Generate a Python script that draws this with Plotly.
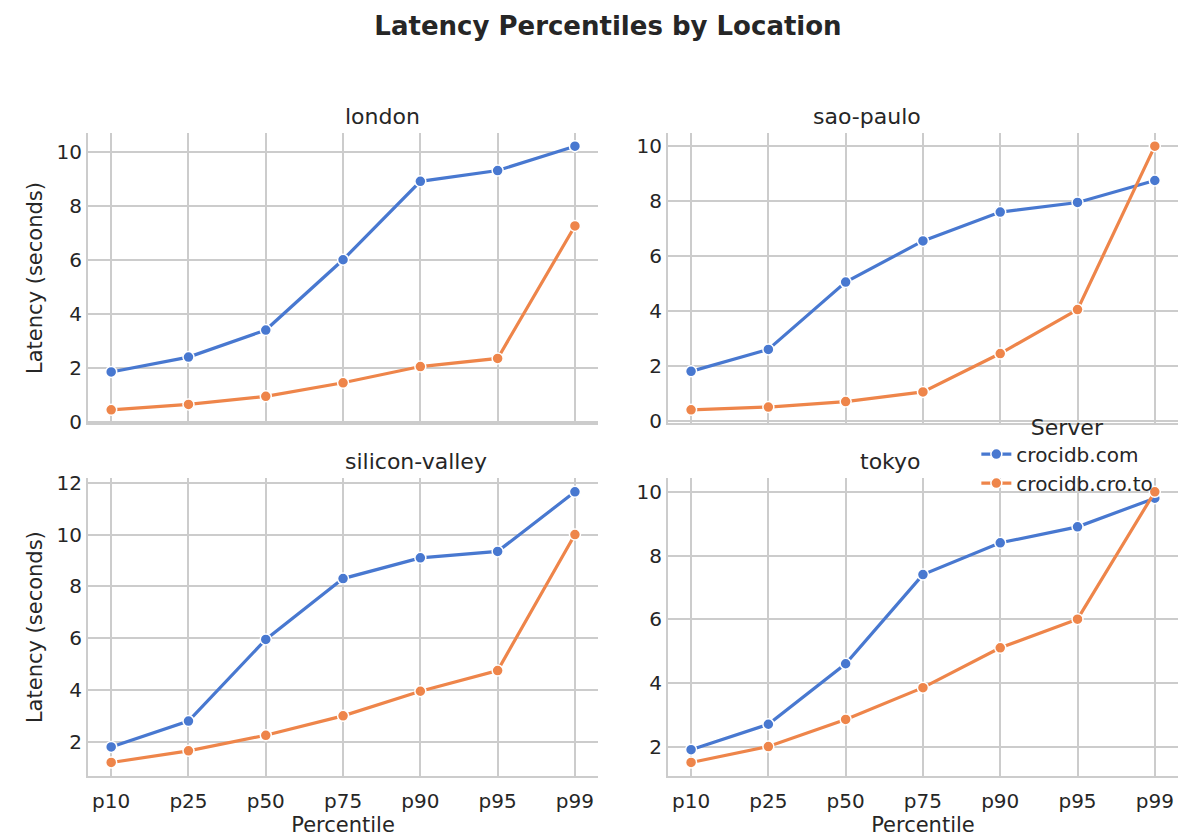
"""Latency percentiles facet chart."""

import plotly.graph_objects as go

pcts = ["p10", "p25", "p50", "p75", "p90", "p95", "p99"]
data = {
    "london": {
        "crocidb.com": [1.85, 2.4, 3.4, 6.0, 8.9, 9.3, 10.2],
        "crocidb.cro.to": [0.45, 0.65, 0.95, 1.45, 2.05, 2.35, 7.25],
    },
    "sao-paulo": {
        "crocidb.com": [1.8, 2.6, 5.05, 6.55, 7.6, 7.95, 8.75],
        "crocidb.cro.to": [0.4, 0.5, 0.7, 1.05, 2.45, 4.05, 10.0],
    },
    "silicon-valley": {
        "crocidb.com": [1.8, 2.8, 5.95, 8.3, 9.1, 9.35, 11.65],
        "crocidb.cro.to": [1.2, 1.65, 2.25, 3.0, 3.95, 4.75, 10.0],
    },
    "tokyo": {
        "crocidb.com": [1.9, 2.7, 4.6, 7.4, 8.4, 8.9, 9.8],
        "crocidb.cro.to": [1.5, 2.0, 2.85, 3.85, 5.1, 6.0, 10.0],
    },
}
colors = {"crocidb.com": "#4878d0", "crocidb.cro.to": "#ee854a"}

xdom = [[0, 0.468], [0.532, 1]]
ydom = [[0.549, 1], [0, 0.463]]
grid = "#cccccc"
text = "#262626"

fig = go.Figure()
layout = {}
for k, loc in enumerate(data):
    r, c = divmod(k, 2)
    n = k + 1
    xa = "x" if n == 1 else "x%d" % n
    ya = "y" if n == 1 else "y%d" % n
    for server, vals in data[loc].items():
        fig.add_trace(go.Scatter(
            x=list(range(7)), y=vals, xaxis=xa, yaxis=ya,
            mode="lines+markers", name=server, showlegend=(k == 0),
            line={"color": colors[server], "width": 3.2},
            marker={"size": 11, "color": colors[server], "line": {"color": "white", "width": 1.5}},
        ))
    vals = sum(data[loc].values(), [])
    lo, hi = min(vals), max(vals)
    pad = (hi - lo) * 0.05
    layout["xaxis" if n == 1 else "xaxis%d" % n] = dict(
        domain=xdom[c], anchor=ya, range=[-0.3, 6.3],
        tickvals=list(range(7)), ticktext=pcts if r == 1 else [""] * 7,
        showgrid=True, gridcolor=grid, gridwidth=1.5, zeroline=False,
        showline=True, linecolor=grid, linewidth=2,
        ticks="outside" if r == 1 else "", ticklen=6, tickcolor="white",
        tickfont={"size": 20},
        title={"text": "Percentile" if r == 1 else "", "standoff": 2, "font": {"size": 21}},
    )
    layout["yaxis" if n == 1 else "yaxis%d" % n] = dict(
        domain=ydom[r], anchor=xa, range=[lo - pad, hi + pad], dtick=2,
        showgrid=True, gridcolor=grid, gridwidth=1.5, zeroline=False,
        showline=True, linecolor=grid, linewidth=2, tickfont={"size": 20},
        title={"text": "Latency (seconds)" if c == 0 else "", "standoff": 8, "font": {"size": 21}},
    )
    fig.add_annotation(
        text=loc, x=sum(xdom[c]) / 2, y=ydom[r][1], xref="paper", yref="paper",
        yanchor="bottom", showarrow=False, yshift=2, font={"size": 22, "color": text},
    )

fig.update_layout(
    width=1200, height=840,
    margin={"l": 80, "r": 30, "t": 125, "b": 72},
    plot_bgcolor="white", paper_bgcolor="white",
    font={"family": "DejaVu Sans", "size": 20, "color": text},
    title={"text": "<b>Latency Percentiles by Location</b>", "x": 0.5, "y": 0.99,
           "xanchor": "center", "yanchor": "top", "font": {"size": 26}},
    legend={"title": {"text": "Server", "side": "top center", "font": {"size": 22}},
            "x": 0.815, "y": 0.5, "xanchor": "left", "yanchor": "middle",
            "bgcolor": "rgba(255,255,255,0)", "font": {"size": 20}},
    **layout,
)

fig.write_html("out.html")
